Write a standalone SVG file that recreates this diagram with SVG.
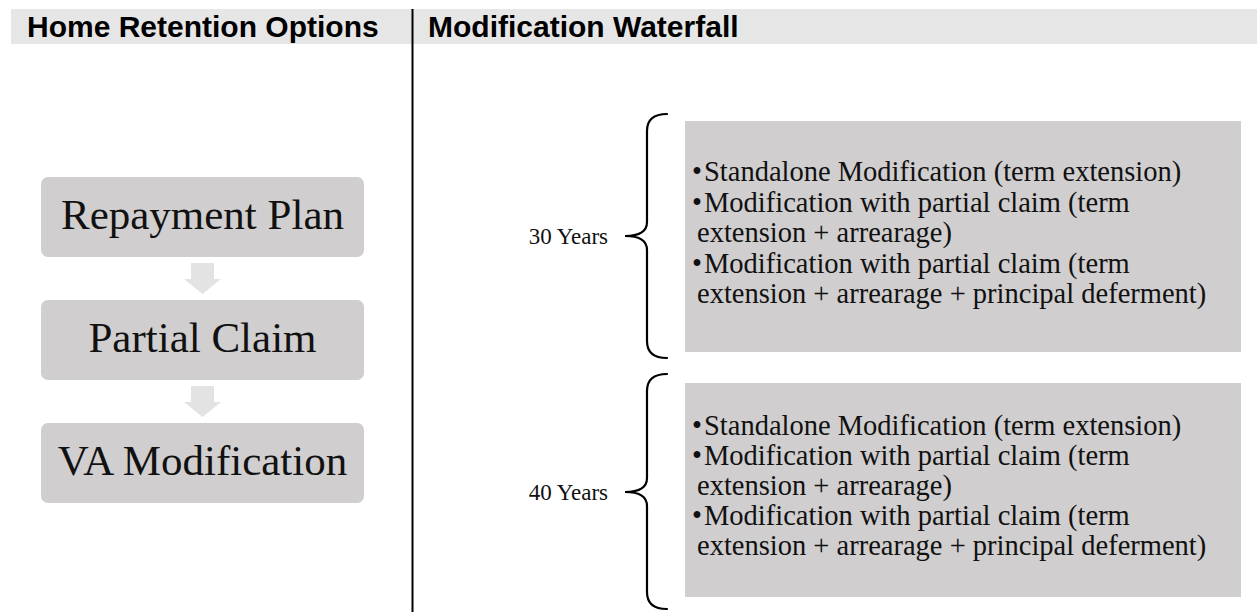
<svg xmlns="http://www.w3.org/2000/svg" width="1257" height="612" viewBox="0 0 1257 612">
<style>
.hdr{fill:#e6e6e6}
.htxt{font-family:"Liberation Sans",Arial,sans-serif;font-weight:bold;font-size:30px;fill:#000}
.lbox{fill:#d0cece}
.ltxt{font-family:"Liberation Serif","Times New Roman",serif;font-size:43px;fill:#111;text-anchor:middle}
.arrow{fill:#e4e3e3}
.rbox{fill:#d0cece}
.btxt{font-family:"Liberation Serif","Times New Roman",serif;font-size:28.5px;fill:#111}
.yrs{font-family:"Liberation Serif","Times New Roman",serif;font-size:23px;fill:#111;text-anchor:end}
.brace{fill:none;stroke:#000;stroke-width:2.2;stroke-linecap:round}
</style>
<rect width="1257" height="612" fill="#fff"/>
<g id="header">
<rect class="hdr" x="11" y="9" width="1246" height="35"/>
<text class="htxt" x="27" y="37">Home Retention Options</text>
<text class="htxt" x="428" y="37">Modification Waterfall</text>
<line x1="412.5" y1="9" x2="412.5" y2="612" stroke="#000" stroke-width="2"/>
</g>
<g id="node-repayment">
<rect class="lbox" x="41" y="177" width="323" height="80" rx="7"/>
<text class="ltxt" x="202.5" y="229">Repayment Plan</text>
</g>
<g id="node-partial">
<rect class="lbox" x="41" y="300" width="323" height="80" rx="7"/>
<text class="ltxt" x="202.5" y="352">Partial Claim</text>
</g>
<g id="node-vamod">
<rect class="lbox" x="41" y="423" width="323" height="80" rx="7"/>
<text class="ltxt" x="202.5" y="475">VA Modification</text>
</g>
<g id="connectors">
<polygon class="arrow" points="191,263 214,263 214,279 221,279 202.5,294 184,279 191,279"/>
<polygon class="arrow" points="191,386 214,386 214,402 221,402 202.5,417 184,402 191,402"/>
<path class="brace" d="M667,114 C655,114 647,119 647,131 L647,222 C647,231 640,236 625,236 C640,236 647,241 647,250 L647,341 C647,353 655,358 667,358"/>
<path class="brace" d="M667,374 C655,374 647,379 647,391 L647,478 C647,487 640,492 625,492 C640,492 647,497 647,506 L647,592 C647,604 655,609 667,609"/>
</g>
<g id="node-30">
<text class="yrs" x="608" y="244">30 Years</text>
<rect class="rbox" x="685" y="121" width="556" height="231"/>
<text class="btxt">
<tspan x="692" y="181">•</tspan><tspan x="704" y="181">Standalone Modification (term extension)</tspan>
<tspan x="692" y="211.5">•</tspan><tspan x="704" y="211.5">Modification with partial claim (term</tspan>
<tspan x="697" y="242">extension + arrearage)</tspan>
<tspan x="692" y="272.5">•</tspan><tspan x="704" y="272.5">Modification with partial claim (term</tspan>
<tspan x="697" y="303">extension + arrearage + principal deferment)</tspan>
</text>
</g>
<g id="node-40">
<text class="yrs" x="608" y="500">40 Years</text>
<rect class="rbox" x="685" y="383" width="556" height="214"/>
<text class="btxt">
<tspan x="692" y="435">•</tspan><tspan x="704" y="435">Standalone Modification (term extension)</tspan>
<tspan x="692" y="465">•</tspan><tspan x="704" y="465">Modification with partial claim (term</tspan>
<tspan x="697" y="495">extension + arrearage)</tspan>
<tspan x="692" y="525">•</tspan><tspan x="704" y="525">Modification with partial claim (term</tspan>
<tspan x="697" y="555">extension + arrearage + principal deferment)</tspan>
</text>
</g>
</svg>
